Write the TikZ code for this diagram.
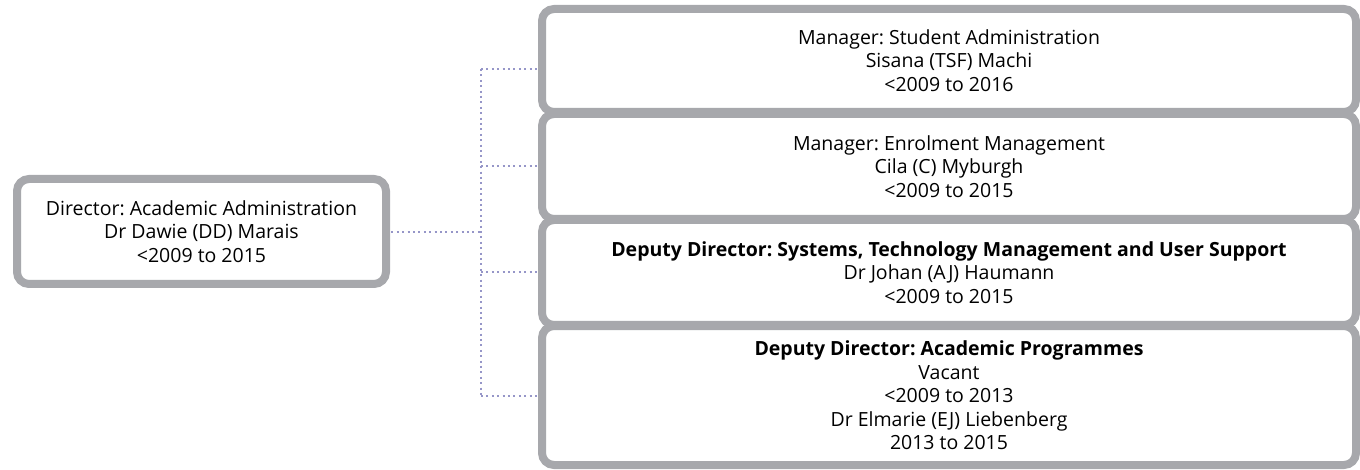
\documentclass[tikz,border=0pt]{standalone}
\usepackage{fontspec}
\setmainfont{Open Sans}
\frenchspacing
\definecolor{boxgray}{RGB}{167,168,172}
\definecolor{linkviolet}{RGB}{150,150,200}
\tikzset{
  unit/.style={draw=boxgray, line width=8pt, rounded corners=12pt, fill=white,
    align=center, inner sep=0pt, text=black,
    font=\fontsize{19.5}{23.5}\selectfont},
  wideunit/.style={unit, minimum width=814pt},
  link/.style={draw=linkviolet, line width=2pt, dash pattern=on 2pt off 3.4pt},
}
\begin{document}
\begin{tikzpicture}[x=1pt, y=-1pt]
\useasboundingbox (0,0) rectangle (1360,470);

% dotted connectors (drawn first, box borders cover their ends)
\coordinate (j) at (481,232);
\coordinate (dirE) at (386,232);
\coordinate (t1) at (542,69);
\coordinate (t2) at (542,166.5);
\coordinate (t3) at (542,272.5);
\coordinate (t4) at (542,395.5);
\draw[link] (dirE) -- (j);
\draw[link] (t1 -| j) -- (t4 -| j);
\draw[link] (t1 -| j) -- (t1);
\draw[link] (t2 -| j) -- (t2);
\draw[link] (t3 -| j) -- (t3);
\draw[link] (t4 -| j) -- (t4);

% director
\node[unit, minimum width=369pt, minimum height=105pt] (dir) at (201.5,231.5)
  {Director: Academic Administration\\Dr Dawie (DD) Marais\\<2009 to 2015};

% reporting units
\node[wideunit, minimum height=103pt] (m1) at (949,60.5)
  {Manager: Student Administration\\Sisana (TSF) Machi\\<2009 to 2016};
\node[wideunit, minimum height=105pt] (m2) at (949,166.5)
  {Manager: Enrolment Management\\Cila (C) Myburgh\\<2009 to 2015};
\node[wideunit, minimum height=105pt] (m3) at (949,272.5)
  {\textbf{Deputy Director: Systems, Technology Management and User Support}\\Dr Johan (AJ) Haumann\\<2009 to 2015};
\node[wideunit, minimum height=139pt] (m4) at (949,395.5)
  {\textbf{Deputy Director: Academic Programmes}\\Vacant\\<2009 to 2013\\Dr Elmarie (EJ) Liebenberg\\2013 to 2015};
\end{tikzpicture}
\end{document}
